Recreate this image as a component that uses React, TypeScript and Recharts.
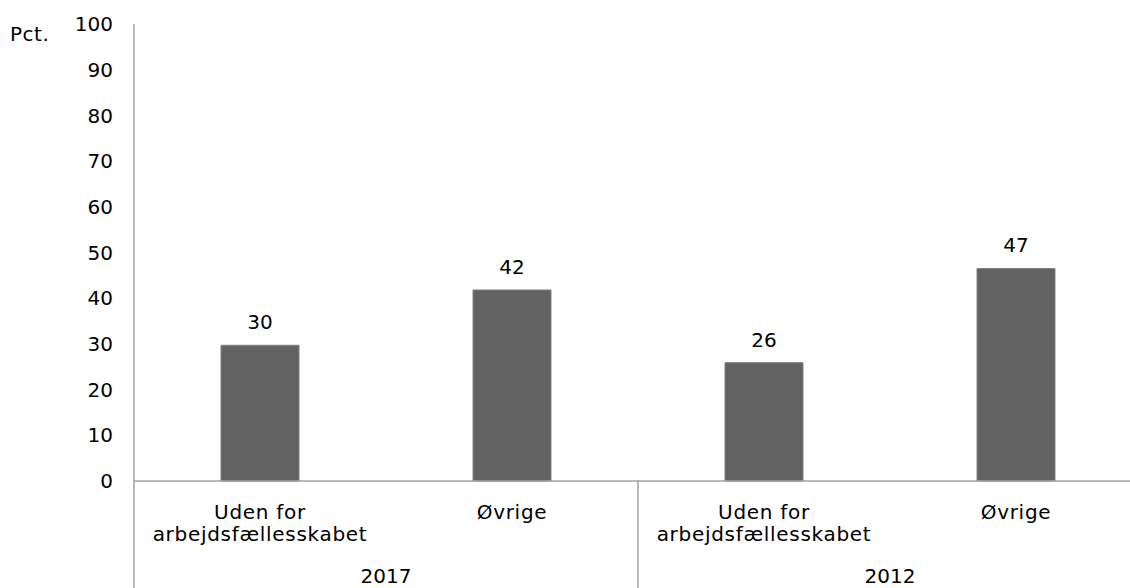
import React from 'react';
import { BarChart, Bar, XAxis, YAxis, LabelList } from 'recharts';

const years = ['2017', '2012'];
const groups = ['Uden for arbejdsfællesskabet', 'Øvrige'];
const values2017 = [29.7, 41.8];
const values2012 = [25.9, 46.5];
const yTicks = [0, 10, 20, 30, 40, 50, 60, 70, 80, 90, 100];

const data = [
  ...groups.map((g, i) => ({ name: g, year: years[0], value: values2017[i] })),
  ...groups.map((g, i) => ({ name: g, year: years[1], value: values2012[i] })),
];

const FONT = "'DejaVu Sans', Verdana, sans-serif";
const AXIS = '#a0a0a0';
const CHART_W = 1160;
const CHART_H = 600;
const Y_AXIS_W = 134;
const RIGHT = 18;
const CAT_H = 60;
const YEAR_H = 59;
const PLOT_BOTTOM = CHART_H - CAT_H - YEAR_H;
const GROUP_W = (CHART_W - Y_AXIS_W - RIGHT) / years.length;

// two-line wrap at the last space
const CategoryTick = (props: any) => {
  const { x, y, payload } = props;
  const label: string = payload.value;
  const cut = label.lastIndexOf(' ');
  const lines = cut > 0 ? [label.slice(0, cut), label.slice(cut + 1)] : [label];
  return (
    <text x={x} y={y} textAnchor="middle" fill="#000" fontSize={20} fontFamily={FONT} letterSpacing={0.7}>
      {lines.map((l, i) => (
        <tspan key={i} x={x} y={y + 38 + i * 22}>{l}</tspan>
      ))}
    </text>
  );
};

const YearTick = (props: any) => {
  const { x, y, payload, index } = props;
  return (
    <g>
      <line x1={x - GROUP_W / 2} x2={x - GROUP_W / 2} y1={PLOT_BOTTOM} y2={CHART_H} stroke={AXIS} strokeWidth={1.5} />
      {index === years.length - 1 && (
        <line x1={x + GROUP_W / 2} x2={x + GROUP_W / 2} y1={PLOT_BOTTOM} y2={CHART_H} stroke={AXIS} strokeWidth={1.5} />
      )}
      <text x={x} y={y + 42} textAnchor="middle" fill="#000" fontSize={20} fontFamily={FONT}>
        {payload.value}
      </text>
    </g>
  );
};

export default function App() {
  return (
    <div
      style={{
        position: 'fixed',
        left: 0,
        top: 0,
        width: 1130,
        height: 588,
        overflow: 'hidden',
        background: '#fff',
        fontFamily: FONT,
      }}
    >
      <div
        style={{
          position: 'absolute',
          left: 10,
          top: 24,
          fontSize: 20,
          lineHeight: '20px',
          letterSpacing: 0.5,
          color: '#000',
          zIndex: 2,
        }}
      >
        Pct.
      </div>
      <BarChart
        width={CHART_W}
        height={CHART_H}
        data={data}
        margin={{ top: 24, right: RIGHT, bottom: 0, left: 0 }}
      >
        <YAxis
          width={Y_AXIS_W}
          domain={[0, 100]}
          ticks={yTicks}
          interval={0}
          tickLine={false}
          tickSize={0}
          tickMargin={21}
          axisLine={{ stroke: AXIS, strokeWidth: 1.5 }}
          tick={{ fill: '#000', fontSize: 20, fontFamily: FONT }}
        />
        <XAxis
          dataKey="name"
          height={CAT_H}
          interval={0}
          tickLine={false}
          tickSize={0}
          tickMargin={0}
          axisLine={{ stroke: AXIS, strokeWidth: 1.5 }}
          tick={<CategoryTick />}
        />
        <XAxis
          xAxisId="year"
          dataKey="year"
          allowDuplicatedCategory={false}
          height={YEAR_H}
          interval={0}
          tickLine={false}
          tickSize={0}
          tickMargin={0}
          axisLine={false}
          tick={<YearTick />}
        />
        <Bar dataKey="value" fill="#626262" stroke="#808080" strokeWidth={1} barSize={78} isAnimationActive={false}>
          <LabelList
            dataKey="value"
            position="top"
            offset={16}
            fill="#000"
            fontSize={20}
            fontFamily={FONT}
            formatter={(v: any) => Math.round(Number(v))}
          />
        </Bar>
      </BarChart>
    </div>
  );
}
